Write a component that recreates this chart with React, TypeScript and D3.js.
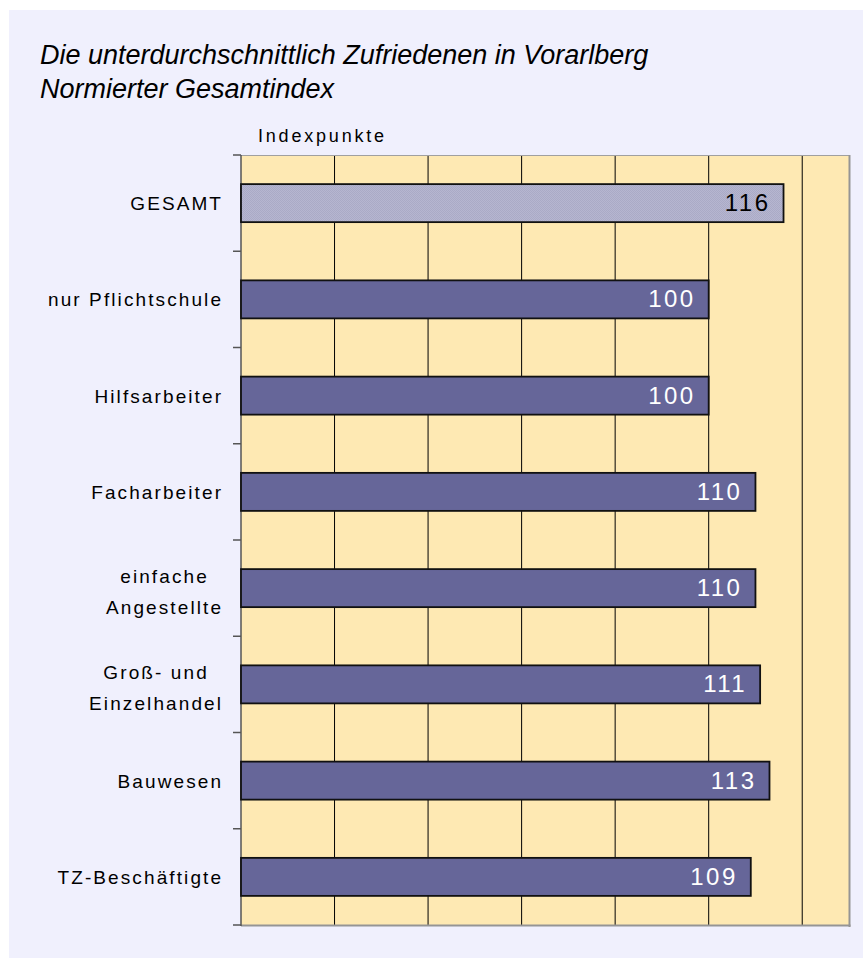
import React from "react";
import * as d3 from "d3";

const titleLines = ["Die unterdurchschnittlich Zufriedenen in Vorarlberg", "Normierter Gesamtindex"];
const axisTitle = "Indexpunkte";
const categories = [
  "GESAMT",
  "nur Pflichtschule",
  "Hilfsarbeiter",
  "Facharbeiter",
  "einfache Angestellte",
  "Groß- und Einzelhandel",
  "Bauwesen",
  "TZ-Beschäftigte",
];
const categoryLines = [
  ["GESAMT"],
  ["nur Pflichtschule"],
  ["Hilfsarbeiter"],
  ["Facharbeiter"],
  ["einfache", "Angestellte"],
  ["Groß- und", "Einzelhandel"],
  ["Bauwesen"],
  ["TZ-Beschäftigte"],
];
const values = [116, 100, 100, 110, 110, 111, 113, 109];
const gridValues = [20, 40, 60, 80, 100, 120];
const highlight = ["GESAMT"];

const FONT = "'Liberation Sans', Arial, sans-serif";
const LABEL_SIZE = 19;
const LABEL_SPACING = 2.1;

let ctx: CanvasRenderingContext2D | null = null;
function measure(text: string, size: number, spacing: number) {
  if (!ctx) ctx = document.createElement("canvas").getContext("2d");
  if (!ctx) return text.length * size * 0.5;
  ctx.font = `${size}px 'Liberation Sans'`;
  return ctx.measureText(text).width + spacing * (text.length - 1);
}

export default function App() {
  const W = 863, H = 958;
  const plot = { left: 241, right: 849, top: 155, bottom: 925 };
  const x = d3.scaleLinear().domain([0, 130]).range([plot.left, plot.right]);
  const y = d3.scaleBand<string>().domain(categories).range([plot.top, plot.bottom]).padding(0);
  const barH = y.bandwidth() * 0.395;
  const boundaries = d3.range(categories.length + 1).map((i) => plot.top + i * y.step());
  const labelRight = 221;

  return (
    <svg width={W} height={H} style={{ position: "absolute", left: 0, top: 0 }} fontFamily={FONT}>
      <defs>
        <pattern id="dots" width="2" height="2" patternUnits="userSpaceOnUse">
          <rect width="2" height="2" fill="#b6b6d0" />
          <rect width="1" height="1" fill="#aaaac6" />
          <rect x="1" y="1" width="1" height="1" fill="#aaaac6" />
        </pattern>
      </defs>
      <rect x={9} y={10} width={W - 9} height={H - 10} fill="#f0f0fd" />
      {titleLines.map((t, i) => (
        <text key={t} x={40} y={64 + i * 34} fontSize={27} fontStyle="italic" fill="#000">
          {t}
        </text>
      ))}
      <text x={258} y={142} fontSize={18} fill="#000" letterSpacing={2.8}>
        {axisTitle}
      </text>

      <rect x={plot.left} y={plot.top} width={plot.right - plot.left} height={plot.bottom - plot.top} fill="#fee9b3" />
      {gridValues.map((v) => (
        <line key={v} x1={x(v)} x2={x(v)} y1={plot.top} y2={plot.bottom} stroke="#000" strokeWidth={1} />
      ))}
      <line x1={plot.left} x2={plot.right} y1={plot.top + 0.5} y2={plot.top + 0.5} stroke="#a0a0a0" strokeWidth={1} />
      <line x1={plot.right + 0.5} x2={plot.right + 0.5} y1={plot.top} y2={plot.bottom + 2} stroke="#959595" strokeWidth={2} />
      <line x1={plot.left} x2={plot.right + 1.5} y1={plot.bottom + 0.5} y2={plot.bottom + 0.5} stroke="#959595" strokeWidth={2} />
      <line x1={plot.left} x2={plot.left} y1={plot.top} y2={plot.bottom + 1} stroke="#555" strokeWidth={1.5} />
      {boundaries.map((b, i) => (
        <line key={i} x1={233} x2={plot.left} y1={b} y2={b} stroke="#555" strokeWidth={1.5} />
      ))}

      {categories.map((c, i) => {
        const yc = (y(c) as number) + y.bandwidth() / 2;
        const hl = highlight.includes(c);
        return (
          <g key={c}>
            <rect
              x={x(0)}
              y={yc - barH / 2}
              width={x(values[i]) - x(0)}
              height={barH}
              fill={hl ? "url(#dots)" : "#666699"}
              stroke="#111"
              strokeWidth={1.8}
            />
            <text
              x={x(values[i]) - 13}
              y={yc + 8}
              fontSize={24}
              letterSpacing={2.5}
              textAnchor="end"
              fill={hl ? "#000" : "#fff"}
            >
              {values[i]}
            </text>
          </g>
        );
      })}

      {categoryLines.map((lines, i) => {
        const yc = (y(categories[i]) as number) + y.bandwidth() / 2;
        const widths = lines.map((l) => measure(l, LABEL_SIZE, LABEL_SPACING));
        const maxW = Math.max(...widths);
        const cx = labelRight - maxW / 2;
        return (
          <g key={i}>
            {lines.map((l, j) => (
              <text
                key={j}
                x={cx + LABEL_SPACING / 2}
                y={yc + 7 + (lines.length > 1 ? 3 : 0) + (j - (lines.length - 1) / 2) * 31}
                fontSize={LABEL_SIZE}
                letterSpacing={LABEL_SPACING}
                textAnchor="middle"
                fill="#000"
              >
                {l}
              </text>
            ))}
          </g>
        );
      })}
    </svg>
  );
}
